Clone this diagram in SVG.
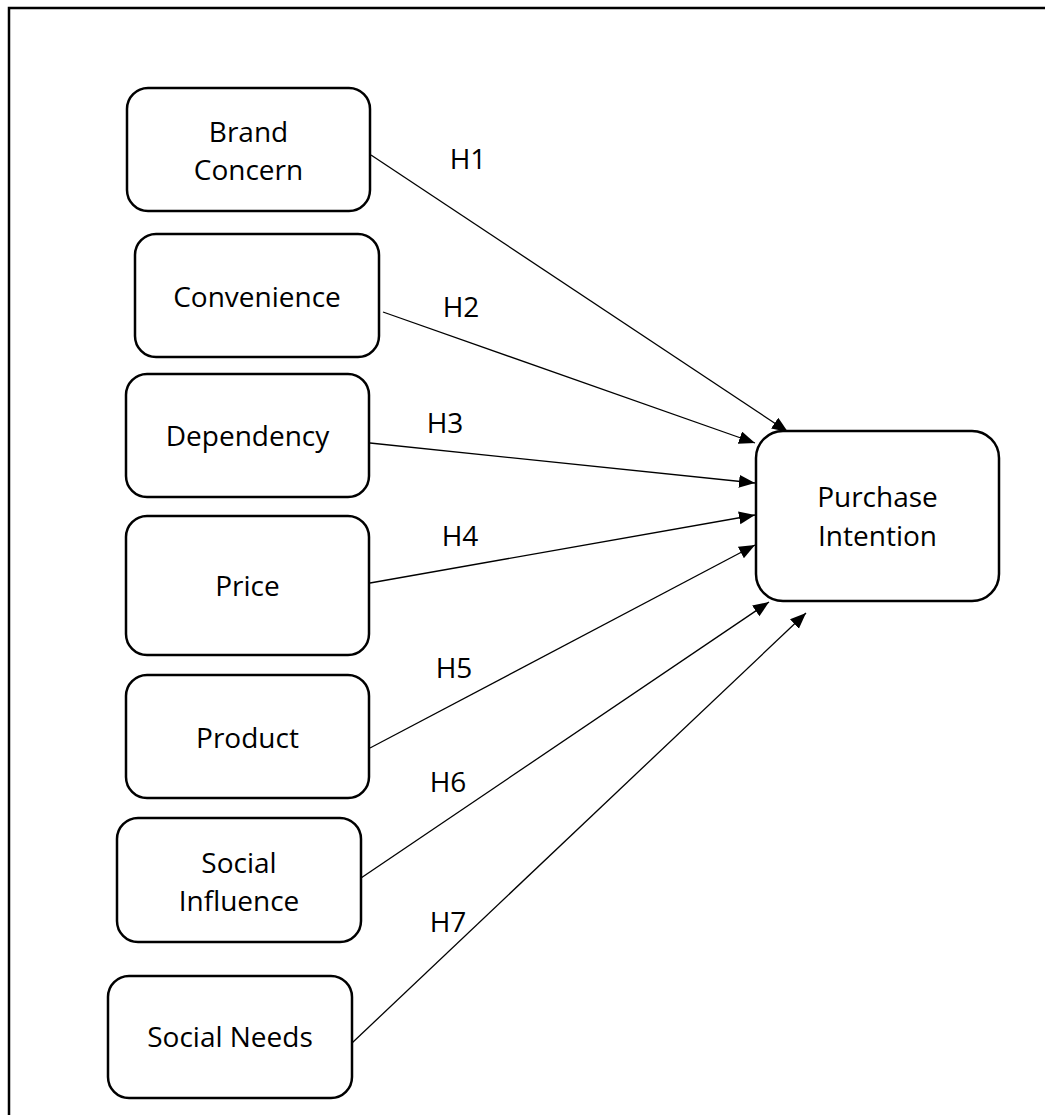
<svg xmlns="http://www.w3.org/2000/svg" width="1045" height="1115" viewBox="0 0 1045 1115">
<style>
.box{fill:#fff;stroke:#000;stroke-width:2.5}
.lbl{font-family:"Open Sans","Liberation Sans",sans-serif;font-size:28px;fill:#000;text-anchor:middle}
.conn{stroke:#000;stroke-width:1.3;fill:none;marker-end:url(#ah)}
</style>
<defs>
<marker id="ah" markerUnits="userSpaceOnUse" markerWidth="17" markerHeight="14" refX="16" refY="6.5" orient="auto">
<path d="M0,0 L16,6.5 L0,13 z" fill="#000"/>
</marker>
</defs>
<rect width="1045" height="1115" fill="#fff"/>
<path d="M9,1120 L9,8 L1050,8" fill="none" stroke="#000" stroke-width="2.5"/>
<g id="connectors">
<line class="conn" x1="371" y1="155" x2="788" y2="432"/>
<line class="conn" x1="383" y1="312" x2="755" y2="443"/>
<line class="conn" x1="370" y1="443" x2="755" y2="483"/>
<line class="conn" x1="370" y1="583" x2="755" y2="515"/>
<line class="conn" x1="370" y1="748" x2="755" y2="545"/>
<line class="conn" x1="361" y1="878" x2="769" y2="602"/>
<line class="conn" x1="352" y1="1043" x2="806" y2="613"/>
</g>
<g id="labels">
<text class="lbl" x="468" y="169">H1</text>
<text class="lbl" x="461" y="317">H2</text>
<text class="lbl" x="445" y="433">H3</text>
<text class="lbl" x="460" y="546">H4</text>
<text class="lbl" x="454" y="678">H5</text>
<text class="lbl" x="448" y="792">H6</text>
<text class="lbl" x="448" y="932">H7</text>
</g>
<g id="brand-concern">
<rect class="box" x="127" y="88" width="243" height="123" rx="21"/>
<text class="lbl" x="248.5" y="142">Brand</text>
<text class="lbl" x="248.5" y="180">Concern</text>
</g>
<g id="convenience">
<rect class="box" x="135" y="234" width="244" height="123" rx="21"/>
<text class="lbl" x="257" y="307">Convenience</text>
</g>
<g id="dependency">
<rect class="box" x="126" y="374" width="243" height="123" rx="21"/>
<text class="lbl" x="247.5" y="446">Dependency</text>
</g>
<g id="price">
<rect class="box" x="126" y="516" width="243" height="139" rx="21"/>
<text class="lbl" x="247.5" y="596">Price</text>
</g>
<g id="product">
<rect class="box" x="126" y="675" width="243" height="123" rx="21"/>
<text class="lbl" x="247.5" y="748">Product</text>
</g>
<g id="social-influence">
<rect class="box" x="117" y="818" width="244" height="124" rx="21"/>
<text class="lbl" x="239" y="873">Social</text>
<text class="lbl" x="239" y="911">Influence</text>
</g>
<g id="social-needs">
<rect class="box" x="108" y="976" width="244" height="122" rx="21"/>
<text class="lbl" x="230" y="1047">Social Needs</text>
</g>
<g id="purchase-intention">
<rect class="box" x="756" y="431" width="243" height="170" rx="27"/>
<text class="lbl" x="877.5" y="507">Purchase</text>
<text class="lbl" x="877.5" y="546">Intention</text>
</g>
</svg>
